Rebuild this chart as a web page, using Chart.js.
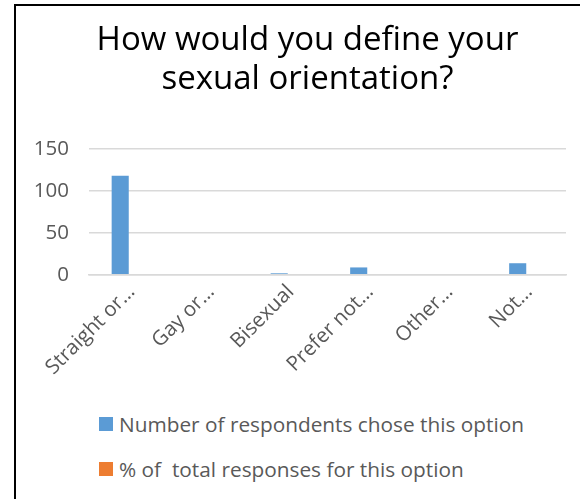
<!DOCTYPE html>
<html>
<head>
<meta charset="utf-8">
<script src="https://cdn.jsdelivr.net/npm/chart.js@4.4.1/dist/chart.umd.min.js"></script>
<style>
  html, body { margin: 0; padding: 0; background: #fff; overflow: hidden; width: 580px; height: 499px; }
  #frame { position: absolute; left: 14px; top: 4px; right: 0; bottom: 0; border-left: 2px solid #000; border-top: 2px solid #000; }
  #chart { position: absolute; left: 17px; top: 7px; }
  #legend { position: absolute; left: 99px; top: 411px; font-family: "Open Sans", sans-serif; font-size: 20.8px; color: #595959; }
  .item { display: flex; align-items: center; height: 26px; margin-bottom: 19px; white-space: pre; }
  .swatch { width: 14px; height: 14px; margin-right: 6px; }
</style>
</head>
<body>
<div id="frame"></div>
<canvas id="chart" width="563" height="368"></canvas>
<div id="legend"></div>
<script>
  // survey answers
  const categories = ["Straight or…", "Gay or…", "Bisexual", "Prefer not…", "Other…", "Not…"];
  const respondents = [118, 0, 2, 9, 0, 14];
  const shareOfTotal = [0.83, 0, 0.01, 0.06, 0, 0.1];
  const seriesNames = ["Number of respondents chose this option", "% of  total responses for this option"];
  const seriesColors = ["#5B9BD5", "#ED7D31"];
  const yTicks = [0, 50, 100, 150];

  const textColor = "#595959";
  const gridColor = "#D9D9D9";
  const font = "'Open Sans', sans-serif";

  // keep the title centred on the whole frame, not just the plot width
  const titleCentre = {
    id: "titleCentre",
    afterLayout(c) {
      if (c.titleBlock) c.titleBlock.left = 32;
    },
  };

  const ctx = document.getElementById("chart");
  const chart = new Chart(ctx, {
    type: "bar",
    data: {
      labels: categories,
      datasets: [
        { label: seriesNames[0], data: respondents, backgroundColor: seriesColors[0] },
        { label: seriesNames[1], data: shareOfTotal, backgroundColor: seriesColors[1] },
      ],
    },
    plugins: [titleCentre],
    options: {
      responsive: false,
      animation: false,
      layout: { padding: { left: 0, right: 14, top: 0, bottom: 0 } },
      datasets: { bar: { categoryPercentage: 0.43, barPercentage: 1, inflateAmount: 0 } },
      plugins: {
        legend: { display: false },
        tooltip: { enabled: false },
        title: {
          display: true,
          text: ["How would you define your", "sexual orientation?"],
          color: "#000",
          font: { family: font, size: 33, weight: "normal", lineHeight: 1.18 },
          padding: { top: 14, bottom: 50 },
        },
      },
      scales: {
        x: {
          grid: { display: false },
          // axis line sits on top of the bars, like the category axis
          border: { display: true, color: gridColor, width: 1.5, z: 1 },
          ticks: {
            color: textColor,
            font: { family: font, size: 20.5 },
            minRotation: 45,
            maxRotation: 45,
            autoSkip: false,
            padding: -3,
            labelOffset: 3,
          },
          afterFit: (scale) => { scale.height = 100; },
        },
        y: {
          min: 0,
          max: 150,
          afterBuildTicks: (scale) => { scale.ticks = yTicks.map((v) => ({ value: v })); },
          grid: { color: gridColor, lineWidth: 1.5, drawTicks: false },
          border: { display: false },
          ticks: {
            color: textColor,
            font: { family: font, size: 20.5 },
            padding: 20,
          },
          afterFit: (scale) => { scale.width = 72; },
        },
      },
    },
  });

  // legend stacked one entry per line
  const legend = document.getElementById("legend");
  chart.data.datasets.forEach((ds) => {
    const row = document.createElement("div");
    row.className = "item";
    const sw = document.createElement("span");
    sw.className = "swatch";
    sw.style.background = ds.backgroundColor;
    const txt = document.createElement("span");
    txt.textContent = ds.label;
    row.appendChild(sw);
    row.appendChild(txt);
    legend.appendChild(row);
  });
</script>
</body>
</html>
